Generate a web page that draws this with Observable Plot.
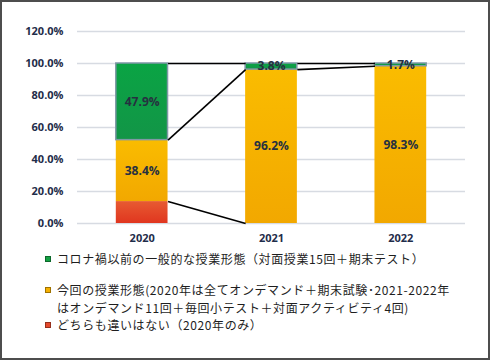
<!DOCTYPE html>
<html>
<head>
<meta charset="utf-8">
<script src="https://cdn.jsdelivr.net/npm/d3@7"></script>
<script src="https://cdn.jsdelivr.net/npm/@observablehq/plot@0.6"></script>
<style>
  html, body { margin: 0; padding: 0; background: #fff; }
  #wrap { position: relative; width: 490px; height: 360px; overflow: hidden; background: #fff; }
  #frame { position: absolute; left: 0; top: 0; width: 490px; height: 360px; box-sizing: border-box; border: 2px solid #4d4d4d; pointer-events: none; }
  #chart { position: absolute; left: 0; top: 0; }
  #legend { position: absolute; left: 45px; top: 250px; font-family: "Noto Sans CJK JP", sans-serif; font-size: 12px; letter-spacing: 0.6px; line-height: 17.5px; color: #1e1e1e; }
  .item { position: relative; padding-left: 12px; white-space: nowrap; }
  .sw { position: absolute; left: 0; top: 6px; width: 6px; height: 6px; box-sizing: border-box; border: 1px solid rgba(0,0,0,0.35); }
  .gap { height: 13.5px; }
</style>
</head>
<body>
<div id="wrap">
  <div id="chart"></div>
  <div id="legend"></div>
  <div id="frame"></div>
</div>
<script>
const years = ["2020", "2021", "2022"];
const seriesNames = [
  "どちらも違いはない（2020年のみ）",
  "今回の授業形態(2020年は全てオンデマンド＋期末試験･2021-2022年<br>はオンデマンド11回＋毎回小テスト＋対面アクティビティ4回)",
  "コロナ禍以前の一般的な授業形態（対面授業15回＋期末テスト）"
];
const redValues = [13.7, 0, 0];
const orangeValues = [38.4, 96.2, 98.3];
const greenValues = [47.9, 3.8, 1.7];
const yTicks = [0, 20, 40, 60, 80, 100, 120];
const showLabel = [false, true, true];

const seriesValues = [redValues, orangeValues, greenValues];
const fills = ["url(#gRed)", "url(#gOrange)", "url(#gGreen)"];
const swatch = ["#e5492c", "#f5b000", "#13a043"];

// stacked segments
const segs = [];
years.forEach((yr, i) => {
  let acc = 0;
  seriesValues.forEach((vals, s) => {
    const v = vals[i];
    segs.push({i, s, value: v, y1: acc, y2: acc + v});
    acc += v;
  });
});
// series connector lines (top of each series, bar edge to next bar edge); none for an absent series
const links = [];
for (let i = 0; i < years.length - 1; i++) {
  seriesValues.forEach((vals, s) => {
    const a = segs.find(d => d.i === i && d.s === s);
    const b = segs.find(d => d.i === i + 1 && d.s === s);
    if (a.value === 0 && b.value === 0) return;
    links.push({x1: i + 0.2, x2: i + 0.8, y1: a.y2, y2: b.y2});
  });
}

const marks = [
  Plot.ruleY(yTicks, {stroke: "#d7dbe2", strokeWidth: 1.5}),
  Plot.axisY({ticks: yTicks, tickFormat: d => d.toFixed(1) + "%", tickSize: 0, tickPadding: 14, label: null}),
  Plot.axisX({ticks: years.map((_, i) => i), tickFormat: i => years[i], tickSize: 0, tickPadding: 11, label: null})
];
[0, 1, 2].forEach(s => {
  marks.push(Plot.rectY(segs.filter(d => d.s === s && d.value > 0), {
    x1: d => d.i - 0.2, x2: d => d.i + 0.2, y1: "y1", y2: "y2",
    fill: fills[s],
    stroke: s === 2 ? "#7f98a6" : "none", strokeWidth: s === 2 ? 1.5 : 0
  }));
});
marks.push(Plot.link(links, {x1: "x1", x2: "x2", y1: "y1", y2: "y2", stroke: "#000", strokeWidth: 1.6}));
marks.push(Plot.text(segs.filter(d => showLabel[d.s] && d.value > 0), {
  x: "i", y: d => (d.y1 + d.y2) / 2, text: d => d.value.toFixed(1) + "%",
  fill: "#263040", fontWeight: "bold", fontSize: 12
}));

const chart = Plot.plot({
  width: 490,
  height: 252,
  marginLeft: 77,
  marginRight: 25,
  marginTop: 31,
  marginBottom: 29,
  x: {type: "linear", domain: [-0.5, 2.5], axis: null},
  y: {domain: [0, 120], axis: null},
  style: {fontFamily: "'Open Sans', sans-serif", fontSize: "11px", fontWeight: "bold", color: "#1f2d4a", background: "transparent"},
  marks
});

// gradient definitions for bar fills
const defs = `
<defs>
  <linearGradient id="gGreen" x1="0" y1="0" x2="0" y2="1">
    <stop offset="0" stop-color="#0aa444"/><stop offset="1" stop-color="#129547"/>
  </linearGradient>
  <linearGradient id="gOrange" x1="0" y1="0" x2="0" y2="1">
    <stop offset="0" stop-color="#fabc00"/><stop offset="1" stop-color="#f2a800"/>
  </linearGradient>
  <linearGradient id="gRed" x1="0" y1="0" x2="0" y2="1">
    <stop offset="0" stop-color="#e75a32"/><stop offset="1" stop-color="#e0361f"/>
  </linearGradient>
</defs>`;
chart.insertAdjacentHTML("afterbegin", defs);
document.getElementById("chart").appendChild(chart);

// legend (top series first, as in the reference)
const order = [2, 1, 0];
const leg = document.getElementById("legend");
order.forEach((s, k) => {
  const it = document.createElement("div");
  it.className = "item";
  it.innerHTML = `<span class="sw" style="background:${swatch[s]}"></span>${seriesNames[s]}`;
  leg.appendChild(it);
  if (k === 0) { const g = document.createElement("div"); g.className = "gap"; leg.appendChild(g); }
});
</script>
</body>
</html>
